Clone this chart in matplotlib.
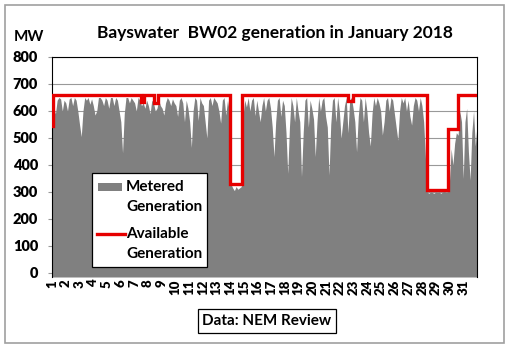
from __future__ import annotations

import matplotlib

matplotlib.use("Agg")
import matplotlib.pyplot as plt
import numpy as np
from matplotlib.lines import Line2D
from matplotlib.patches import Rectangle

plt.rcParams["font.family"] = ["Lato", "DejaVu Sans"]
plt.rcParams["font.weight"] = "bold"

TITLE = "Bayswater  BW02 generation in January 2018"
DAY_LABELS = [str(d) for d in range(1, 32)]

# Metered output (MW), eight 3-hourly readings per day, 1-31 January
METERED_MW = [
    [540, 610, 590, 640, 650, 645, 600, 640],
    [630, 600, 645, 650, 620, 650, 640, 600],
    [550, 505, 600, 650, 640, 650, 625, 645],
    [620, 585, 600, 650, 650, 640, 620, 650],
    [640, 610, 650, 650, 620, 650, 640, 600],
    [560, 445, 590, 650, 650, 630, 650, 640],
    [630, 600, 650, 640, 620, 630, 610, 640],
    [620, 590, 640, 630, 600, 610, 640, 620],
    [610, 585, 630, 650, 640, 620, 645, 630],
    [620, 580, 640, 650, 630, 560, 640, 610],
    [560, 465, 600, 650, 640, 565, 650, 630],
    [620, 560, 500, 640, 650, 620, 650, 640],
    [630, 600, 555, 640, 650, 585, 640, 600],
    [330, 315, 305, 320, 310, 315, 320, 580],
    [640, 615, 650, 600, 640, 650, 583, 640],
    [600, 560, 620, 650, 600, 640, 650, 610],
    [540, 431, 560, 640, 650, 580, 640, 620],
    [520, 369, 540, 650, 620, 560, 650, 600],
    [560, 357, 520, 640, 650, 540, 640, 610],
    [570, 431, 560, 650, 600, 640, 650, 580],
    [540, 363, 550, 640, 650, 560, 650, 600],
    [499, 560, 620, 650, 519, 640, 650, 610],
    [560, 449, 580, 650, 640, 560, 650, 600],
    [520, 470, 590, 650, 620, 650, 630, 600],
    [511, 560, 640, 650, 600, 650, 640, 590],
    [540, 492, 600, 650, 630, 650, 600, 640],
    [580, 548, 620, 650, 640, 600, 650, 620],
    [560, 431, 300, 295, 300, 298, 295, 300],
    [298, 300, 295, 300, 302, 298, 300, 340],
    [460, 400, 480, 520, 510, 600, 560, 350],
    [560, 610, 450, 344, 520, 600, 470, 550],
]

# Available capacity: day (from 1 Jan 00:00) at which each level starts
AVAIL_START_DAY = [0, 0.04, 6.5, 6.7, 7.45, 7.72, 13.0, 13.85, 21.58, 21.95,
                   27.38, 28.9, 29.6, 31.0]
AVAIL_MW = [545, 660, 632, 660, 630, 660, 330, 660, 638, 660,
            307, 533, 660, 660]

FIG_W, FIG_H = 510, 349
GREY = "#808080"
RED = "#e60000"


def fx(px: float) -> float:
    return px / FIG_W


def fy(py: float) -> float:
    return 1 - py / FIG_H


def main() -> None:
    fig = plt.figure(figsize=(FIG_W / 100, FIG_H / 100), dpi=100)
    ax = fig.add_axes([fx(52), fy(277), fx(477) - fx(52), fy(57) - fy(277)])

    metered = np.concatenate([np.asarray(d, dtype=float) for d in METERED_MW])
    t = np.linspace(0, len(METERED_MW), metered.size)
    ymin = -15

    ax.fill_between(t, ymin, metered, color=GREY, lw=0, zorder=2)
    ax.plot(AVAIL_START_DAY, AVAIL_MW, drawstyle="steps-post", color=RED,
            lw=2.4, zorder=3, solid_joinstyle="miter")

    ax.set_xlim(0, 31)
    ax.set_ylim(ymin, 800)
    ax.set_yticks(range(0, 801, 100))
    ax.grid(True, axis="y", color="#999999", lw=0.8, zorder=0)
    ax.set_axisbelow(True)

    ax.set_xticks(range(31))
    ax.set_xticklabels(DAY_LABELS, rotation=90, fontsize=9.5,
                       fontweight="heavy", va="top")
    ax.tick_params(axis="x", length=0, pad=2)
    ax.tick_params(axis="y", length=3, width=0.8, color="#999999",
                   labelsize=10.5, pad=7)
    for lbl in ax.get_yticklabels():
        lbl.set_fontweight("heavy")

    for side in ("top", "right", "left"):
        ax.spines[side].set_color("black")
        ax.spines[side].set_linewidth(0.8)
    ax.spines["bottom"].set_visible(False)

    # legend box drawn by hand so the keys sit on the first text line
    fig.patches.append(Rectangle((fx(92), fy(267)), fx(207) - fx(92),
                                 fy(173) - fy(267), transform=fig.transFigure,
                                 facecolor="white", edgecolor="black", lw=0.9,
                                 zorder=5))
    fig.patches.append(Rectangle((fx(98), fy(191)), fx(122) - fx(98),
                                 fy(183) - fy(191), transform=fig.transFigure,
                                 facecolor=GREY, edgecolor="none", zorder=6))
    fig.lines.append(Line2D([fx(97), fx(125)], [fy(234), fy(234)],
                            transform=fig.transFigure, color=RED, lw=2.4,
                            zorder=6))
    for text, py in (("Metered", 187), ("Generation", 207),
                     ("Available", 234), ("Generation", 254)):
        fig.text(fx(126), fy(py), text, fontsize=11, va="center",
                 fontweight="bold", zorder=7)

    fig.text(fx(275), fy(33), TITLE, fontsize=12.5, ha="center", va="center",
             fontweight="bold")
    fig.text(fx(29), fy(37), "MW", fontsize=11, ha="center", va="center",
             fontweight="bold")
    fig.text(fx(267), fy(321), "Data: NEM Review", fontsize=11, ha="center",
             va="center", fontweight="bold",
             bbox=dict(boxstyle="square,pad=0.3", facecolor="white",
                       edgecolor="black", lw=0.9))

    fig.patches.append(Rectangle((fx(5), fy(343)), fx(504) - fx(5),
                                 fy(5) - fy(343), transform=fig.transFigure,
                                 facecolor="none", edgecolor="#a0a0a0", lw=1.2))

    fig.savefig("out.png", dpi=100)
    plt.close(fig)


if __name__ == "__main__":
    main()
